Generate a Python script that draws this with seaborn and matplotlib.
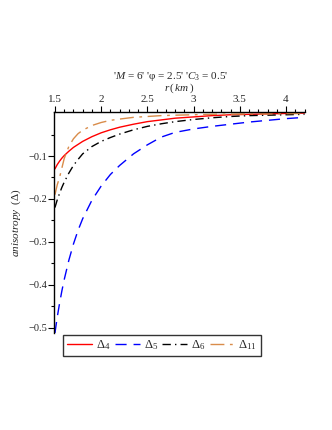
import numpy as np
import pandas as pd
import matplotlib
matplotlib.use('Agg')
import matplotlib.pyplot as plt
import seaborn as sns
from matplotlib.ticker import FixedLocator, FuncFormatter

# valores
r = [1.5, 1.525, 1.55, 1.575, 1.6, 1.65, 1.7, 1.75, 1.8, 1.9, 2.0, 2.1,
     2.2, 2.35, 2.5, 2.65, 2.8, 3.0, 3.2, 3.4, 3.6, 3.8, 4.0, 4.2]

delta4 = [-0.130, -0.120, -0.112, -0.105, -0.099, -0.089, -0.080, -0.073,
          -0.066, -0.055, -0.046, -0.039, -0.033, -0.026, -0.020, -0.016,
          -0.012, -0.009, -0.006, -0.004, -0.003, -0.002, -0.001, 0.000]

delta5 = [-0.512, -0.475, -0.443, -0.414, -0.388, -0.343, -0.305, -0.273,
          -0.246, -0.203, -0.170, -0.143, -0.122, -0.095, -0.074, -0.056,
          -0.045, -0.037, -0.031, -0.026, -0.021, -0.017, -0.013, -0.010]

delta6 = [-0.220, -0.202, -0.187, -0.173, -0.161, -0.140, -0.122, -0.108,
          -0.095, -0.078, -0.066, -0.057, -0.049, -0.039, -0.031, -0.025,
          -0.020, -0.015, -0.011, -0.008, -0.006, -0.005, -0.004, -0.003]

delta11 = [-0.190, -0.167, -0.150, -0.128, -0.106, -0.078, -0.060, -0.048,
           -0.040, -0.029, -0.022, -0.017, -0.014, -0.010, -0.008, -0.006,
           -0.005, -0.004, -0.003, -0.0025, -0.002, -0.002, -0.0015, -0.001]

labels = [r'$\Delta_4$', r'$\Delta_5$', r'$\Delta_6$', r'$\Delta_{11}$']
cores = ['#FF0000', '#0000FF', '#000000', '#D98C4A']
estilos = ['-', (0, (8, 5)), (0, (6, 3, 1, 3)), (0, (10, 4, 2, 4))]

sns.set_style('white')
plt.rcParams['font.family'] = ['Liberation Serif', 'DejaVu Serif']
plt.rcParams['mathtext.fontset'] = 'custom'
plt.rcParams['mathtext.rm'] = 'Liberation Serif'
plt.rcParams['mathtext.it'] = 'Liberation Serif:italic'

fig = plt.figure(figsize=(3.32, 4.30), dpi=100)
ax = fig.add_axes([0.1627, 0.2256, 0.7545, 0.514])

for y, lab, c, ls in zip([delta4, delta5, delta6, delta11], labels, cores, estilos):
    sns.lineplot(x=r, y=y, ax=ax, color=c, linestyle=ls, linewidth=1.0, label=lab)

ax.set_xlim(1.49, 4.2)
ax.set_ylim(-0.512, 0.0025)

ax.spines['right'].set_visible(False)
ax.spines['bottom'].set_visible(False)
for s in ['left', 'top']:
    ax.spines[s].set_color('black')
    ax.spines[s].set_linewidth(1.0)

ax.xaxis.tick_top()
ax.xaxis.set_label_position('top')
ax.xaxis.set_major_locator(FixedLocator([1.5, 2, 2.5, 3, 3.5, 4]))
ax.xaxis.set_minor_locator(FixedLocator(np.round(np.arange(1.6, 4.21, 0.1), 2)))
ax.xaxis.set_major_formatter(FuncFormatter(lambda v, p: '%g' % v))
ax.yaxis.set_major_locator(FixedLocator([-0.5, -0.4, -0.3, -0.2, -0.1]))
ax.yaxis.set_minor_locator(FixedLocator([-0.45, -0.35, -0.25, -0.15, -0.05]))
ax.yaxis.set_major_formatter(FuncFormatter(lambda v, p: ('%g' % v).replace('-', '\u2212')))
ax.tick_params(which='major', direction='out', length=4, width=0.8, labelsize=8, pad=1.5,
               top=True, left=True, bottom=False, right=False, color='black')
ax.tick_params(which='minor', direction='out', length=2.5, width=0.8,
               top=True, left=True, bottom=False, right=False, color='black')
ax.tick_params(axis='y', labelsize=7.5, pad=1)

ax.set_xlabel(r'$r\,(\,km\,)$', fontsize=8, labelpad=3)
ax.set_ylabel(r'$\mathit{anisotropy}\ \ (\Delta)$', fontsize=8)
ax.yaxis.set_label_coords(-0.125, 0.5)

fig.text(0.515, 0.822, r"'$M$ = 6' 'φ = 2.5' '$C_3$ = 0.5'", ha='center', va='center', fontsize=8)

leg = ax.legend(loc='center', bbox_to_anchor=(0.488, 0.1965), bbox_transform=fig.transFigure,
                ncol=4, frameon=True, fancybox=False, fontsize=9, handlelength=2.0,
                handletextpad=0.3, columnspacing=0.35, borderpad=0.3, borderaxespad=0)
leg.get_frame().set_edgecolor('black')
leg.get_frame().set_linewidth(1.0)

fig.savefig('out.png', dpi=100)
